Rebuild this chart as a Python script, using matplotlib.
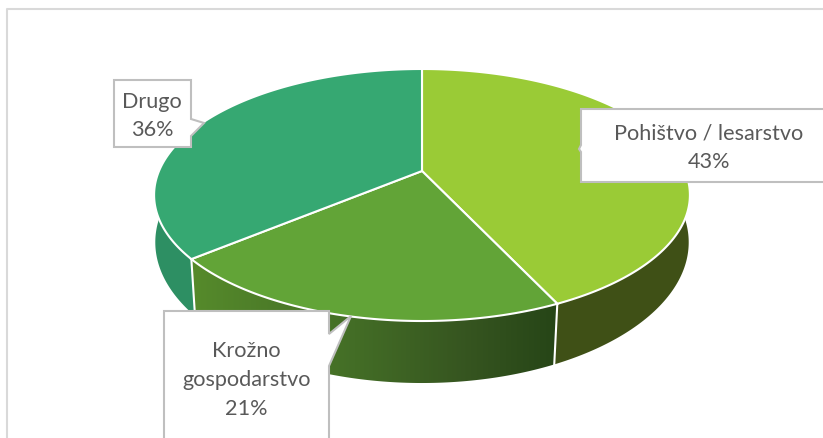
import numpy as np
import matplotlib
matplotlib.use('Agg')
import matplotlib.pyplot as plt
from matplotlib.patches import Polygon

# data
labels = ['Pohištvo / lesarstvo', 'Krožno\ngospodarstvo', 'Drugo']
values = [43, 21, 36]
top_colors = ['#9ACB36', '#62A437', '#36A872']
wall_colors = ['#3F5016', None, '#2D8F63']

# pie geometry in pixels
cx = 422
apex_y = 172
rx = 263
a = -88.67
c = 0.1905


def top_xy(theta):
    # theta clockwise from 12 o'clock, projected with a bit of perspective
    X = np.sin(theta)
    Y = np.cos(theta)
    w = 1 + c * Y
    return cx + rx * X / w, (a * Y + apex_y) / w


def bottom_xy(theta):
    x, y = top_xy(theta)
    Y = np.cos(theta)
    scale = 1 + 0.025 * np.minimum(Y, 0)
    return cx + scale * (x - cx), y + 48 - 14 * Y


fig = plt.figure(figsize=(8.23, 4.39), dpi=100)
ax = fig.add_axes([0, 0, 1, 1])
ax.set_xlim(0, 823)
ax.set_ylim(439, 0)
ax.axis('off')

# chart frame, runs off the picture on the right and at the bottom
ax.plot([7, 7, 830], [445, 10, 10], color='#D9D9D9', lw=1.5, zorder=1)

edges = np.cumsum([0] + values) / sum(values) * 2 * np.pi

# side walls
for i in range(len(values)):
    t = np.linspace(edges[i], edges[i + 1], 200)
    xt, yt = top_xy(t)
    xb, yb = bottom_xy(t)
    pts = np.column_stack([np.r_[xt, xb[::-1]], np.r_[yt, yb[::-1]]])
    if wall_colors[i] is None:
        poly = Polygon(pts, closed=True, fc='none', ec='none', zorder=2)
        ax.add_patch(poly)
        grad = matplotlib.colors.LinearSegmentedColormap.from_list(
            'wall', [(0, '#568B2B'), (0.45, '#436D26'), (0.75, '#365520'), (1, '#264517')])
        im = ax.imshow(np.linspace(0, 1, 256).reshape(1, -1), cmap=grad, aspect='auto',
                       extent=[189, 558, 439, 0], zorder=2)
        im.set_clip_path(poly)
    else:
        ax.add_patch(Polygon(pts, closed=True, fc=wall_colors[i], ec='none', zorder=2))

ax.set_xlim(0, 823)
ax.set_ylim(439, 0)

# white lines down the wall between the slices
for e in edges[1:3]:
    xt, yt = top_xy(e)
    xb, yb = bottom_xy(e)
    ax.plot([xt, xb], [yt, yb], color='white', lw=1.5, zorder=3)

# top face
for i in range(len(values)):
    t = np.linspace(edges[i], edges[i + 1], 200)
    x, y = top_xy(t)
    pts = np.column_stack([np.r_[cx, x], np.r_[apex_y, y]])
    ax.add_patch(Polygon(pts, closed=True, fc=top_colors[i], ec='white', lw=1.5,
                         joinstyle='miter', zorder=4))

# callout boxes
boxes = [
    [(581, 110), (830, 110), (830, 183), (581, 183), (581, 153), (579, 150), (581, 146)],
    [(164, 312), (329, 312), (329, 335), (351, 317), (329, 367), (329, 445), (164, 445)],
    [(114, 81), (191, 81), (191, 120), (204, 124), (191, 137), (191, 148), (114, 148)],
]
for box in boxes:
    ax.add_patch(Polygon(box, closed=True, fc='white', ec='#BFBFBF', lw=1.5,
                         joinstyle='miter', zorder=5))

txt_pos = [(709, 148), (246.5, 380), (152, 116)]
for i in range(len(values)):
    ax.text(txt_pos[i][0], txt_pos[i][1], f'{labels[i]}\n{values[i]}%', ha='center', va='center',
            fontsize=15.6, family='Lato', color='#595959', linespacing=1.55, zorder=6)

fig.savefig('out.png', dpi=100)
